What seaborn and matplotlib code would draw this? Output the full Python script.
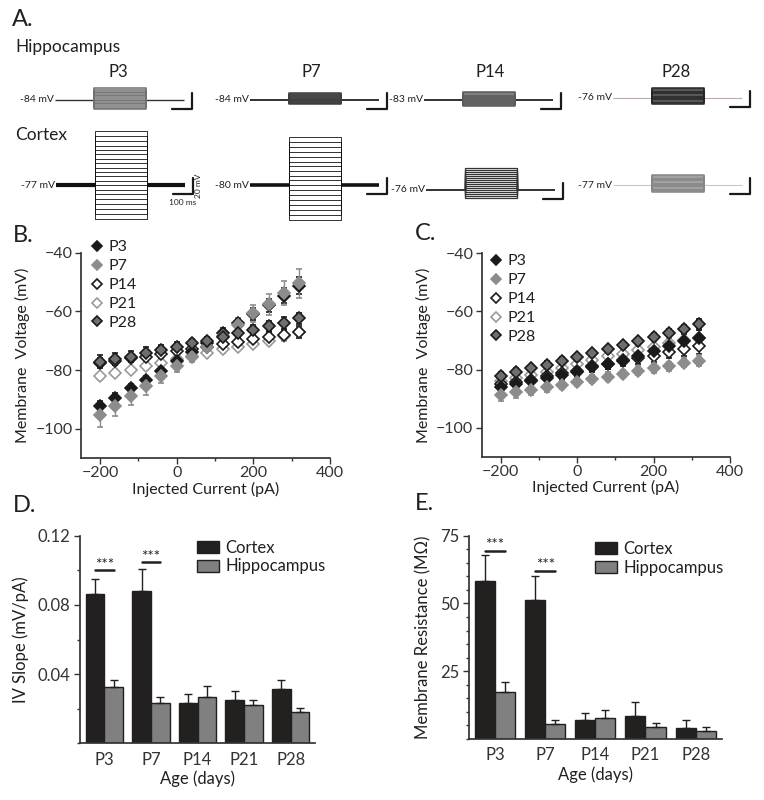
import numpy as np
import pandas as pd
import matplotlib
matplotlib.use('Agg')
import matplotlib.pyplot as plt
from matplotlib.lines import Line2D
from matplotlib.ticker import MultipleLocator
import seaborn as sns

sns.set_theme(style='ticks')
plt.rcParams['font.family'] = ['Lato', 'DejaVu Sans']
plt.rcParams['axes.edgecolor'] = '#333333'
plt.rcParams['xtick.color'] = '#333333'
plt.rcParams['ytick.color'] = '#333333'
plt.rcParams['text.color'] = '#231f20'
plt.rcParams['axes.labelcolor'] = '#231f20'

# ---------------- data ----------------
ages = ['P3', 'P7', 'P14', 'P21', 'P28']
trace_ages = ['P3', 'P7', 'P14', 'P28']

# A. step protocol (ms) and steady-state deflections (mV, relative to rest)
sweep_ms = [-195, 450]
step_ms = [0, 260]
hip_rest = [-84, -84, -83, -76]
ctx_rest = [-77, -80, -76, -77]
hip_levels = [
    [-11, -9.5, -7.5, -5.5, -3.5, -1.5, 0.5, 2.5, 4.5, 6.5, 8.5, 10.5, 13, 15],
    [-5, -4, -3.2, -2.3, -1.4, -0.5, 0.5, 1.5, 2.5, 3.6, 4.8, 6, 7.5, 9],
    [-7.5, -6.2, -5, -3.8, -2.6, -1.3, 0, 1.3, 2.6, 4, 5.3, 6.8, 8.4, 10],
    [-7.5, -6, -4.5, -3, -1.5, 0, 1.5, 3, 4.5, 6, 7.5, 9, 10.8, 12.5],
]
ctx_levels = [
    [-42.5, -36, -30, -24, -17.5, -11, -6, 0, 5, 11, 16, 21, 27.5, 32.5, 39, 44, 49, 55, 61, 67.5],
    [-44, -37.5, -31, -25, -19, -12.5, -6, 0, 6, 11, 17.5, 24, 29, 35, 41, 47.5, 54, 60],
    [-10, -7.6, -5.1, -2.5, 0, 2.4, 4.9, 7.5, 10, 12.6, 15, 17.4, 20, 22.6, 25, 27.5],
    [-9, -7.6, -6.1, -4.6, -3.1, -1.6, 0, 1.5, 3.1, 4.6, 6.2, 7.8, 9.3, 10.9, 12.5],
]

# B./C. IV curves
current_pA = [-200, -160, -120, -80, -40, 0, 40, 80, 120, 160, 200, 240, 280, 320]
iv_ctx = {
    'P3':  [-92.3, -89.4, -86.2, -83.4, -80.2, -76.8, -73.8, -70.8, -67.3, -64.0, -61.0, -58.0, -54.6, -51.2],
    'P7':  [-95.5, -92.3, -89.0, -85.6, -82.2, -78.8, -75.5, -72.2, -68.5, -64.5, -60.7, -57.6, -53.8, -50.4],
    'P14': [-77.5, -76.8, -76.0, -75.5, -74.5, -73.5, -72.8, -72.0, -71.0, -70.5, -69.5, -68.7, -68.0, -67.0],
    'P21': [-82.2, -81.0, -80.0, -78.8, -77.5, -76.3, -75.2, -74.3, -73.0, -72.0, -71.0, -70.0, -68.5, -67.0],
    'P28': [-77.2, -76.3, -75.4, -74.3, -73.2, -72.0, -70.9, -70.0, -68.8, -67.5, -66.3, -65.0, -63.9, -62.4],
}
iv_ctx_err = {
    'P3':  [1.8, 1.5, 1.3, 1.3, 1.3, 1.2, 1.2, 1.2, 1.5, 1.8, 2.0, 2.2, 2.5, 3.0],
    'P7':  [4.0, 3.5, 3.0, 2.8, 2.2, 2.0, 1.8, 1.5, 1.8, 2.2, 3.0, 3.5, 4.0, 5.0],
    'P14': [1.5, 1.4, 1.4, 1.3, 1.3, 1.2, 1.2, 1.2, 1.3, 1.4, 1.5, 1.6, 1.8, 2.0],
    'P21': [1.2, 1.2, 1.1, 1.1, 1.1, 1.0, 1.0, 1.0, 1.1, 1.2, 1.3, 1.4, 1.5, 1.6],
    'P28': [2.2, 2.0, 2.0, 2.0, 1.8, 1.5, 1.4, 1.4, 1.5, 1.6, 1.8, 1.8, 2.0, 2.0],
}
iv_hip = {
    'P3':  [-86.1, -85.0, -84.0, -83.0, -82.0, -80.8, -79.2, -78.1, -76.7, -75.2, -73.5, -72.0, -70.3, -69.1],
    'P7':  [-88.7, -87.9, -86.9, -86.1, -85.3, -84.4, -83.3, -82.4, -81.5, -80.4, -79.6, -78.9, -77.7, -76.9],
    'P14': [-85.0, -84.4, -83.5, -82.3, -81.2, -80.4, -78.9, -78.1, -77.1, -76.1, -75.2, -73.8, -72.9, -72.0],
    'P21': [-84.0, -83.0, -82.0, -80.8, -79.5, -78.0, -76.8, -75.5, -74.5, -73.3, -72.2, -71.0, -70.0, -69.0],
    'P28': [-82.1, -80.7, -79.6, -78.3, -76.9, -75.8, -74.3, -72.9, -71.5, -70.2, -68.8, -67.3, -66.0, -64.2],
}
iv_hip_err = {
    'P3':  [1.8, 1.6, 1.6, 1.5, 1.5, 1.5, 1.5, 1.6, 1.8, 2.0, 2.2, 2.4, 2.6, 2.8],
    'P7':  [2.0, 1.8, 1.8, 1.6, 1.5, 1.4, 1.4, 1.4, 1.4, 1.5, 1.5, 1.6, 1.6, 1.8],
    'P14': [1.6, 1.5, 1.5, 1.5, 1.5, 1.5, 1.6, 1.6, 1.8, 2.0, 2.2, 2.4, 2.6, 2.8],
    'P21': [1.4, 1.4, 1.4, 1.4, 1.4, 1.4, 1.5, 1.5, 1.6, 1.8, 2.0, 2.2, 2.4, 2.6],
    'P28': [1.2, 1.2, 1.2, 1.2, 1.1, 1.1, 1.1, 1.1, 1.1, 1.1, 1.2, 1.2, 1.3, 1.5],
}

# D./E. bar charts
slope_ctx = [0.0861, 0.0880, 0.0231, 0.0250, 0.0314]
slope_ctx_err = [0.0087, 0.0127, 0.0052, 0.0052, 0.0052]
slope_hip = [0.0327, 0.0235, 0.0266, 0.0220, 0.0179]
slope_hip_err = [0.0040, 0.0034, 0.0067, 0.0030, 0.0027]
res_ctx = [58.3, 51.3, 7.0, 8.5, 3.9]
res_ctx_err = [9.4, 9.0, 2.5, 5.3, 3.1]
res_hip = [17.2, 5.5, 7.9, 4.3, 3.1]
res_hip_err = [4.0, 1.5, 2.8, 1.7, 1.2]
sig_ages = ['P3', 'P7']
sig_slope = [0.100, 0.1046]
sig_res = [69.5, 62.1]

region_colors = {'Cortex': '#231f20', 'Hippocampus': '#808080'}

# ---------------- figure ----------------
W, H = 764, 800
fig = plt.figure(figsize=(W / 100, H / 100), dpi=100)


def px_axes(left, top, right, bottom):
    return fig.add_axes([left / W, 1 - bottom / H, (right - left) / W, (bottom - top) / H])


def ftext(x, y, s, **kw):
    fig.text(x / W, 1 - y / H, s, **kw)


# ---- A. example traces
MS_PX, MV_PX = 0.2, 0.8
T_VIEW = (-260, 560)
V_VIEW = (-50, 75)
SB_T = 490


def trace_panel(x0, base, rest, levels, tr_color, tr_lw, base_color, base_lw, scale_text=False):
    w = (T_VIEW[1] - T_VIEW[0]) * MS_PX
    h = (V_VIEW[1] - V_VIEW[0]) * MV_PX
    left = x0 - (sweep_ms[0] - T_VIEW[0]) * MS_PX
    top = base - V_VIEW[1] * MV_PX
    ax = px_axes(left, top, left + w, top + h)
    ax.set_xlim(T_VIEW)
    ax.set_ylim(rest + V_VIEW[0], rest + V_VIEW[1])
    ax.axis('off')
    ax.patch.set_alpha(0)
    ax.plot([sweep_ms[0], step_ms[0]], [rest, rest], color=base_color, lw=base_lw, solid_capstyle='butt')
    ax.plot([step_ms[1], sweep_ms[1]], [rest, rest], color=base_color, lw=base_lw, solid_capstyle='butt')
    for lv in levels:
        ax.plot([step_ms[0], step_ms[0], step_ms[1], step_ms[1]],
                [rest, rest + lv, rest + lv, rest], color=tr_color, lw=tr_lw)
    ax.plot([SB_T - 100, SB_T, SB_T], [rest - 11, rest - 11, rest + 9], color='#1a1a1a', lw=1.6)
    ax.text(sweep_ms[0] - 5, rest, f'{rest} mV', ha='right', va='center', fontsize=7.5,
            family=['Liberation Sans Narrow', 'Lato'])
    if scale_text:
        ax.text(SB_T + 12, rest - 1, '20 mV', rotation=90, ha='left', va='center', fontsize=6)
        ax.text(SB_T - 50, rest - 17, '100 ms', ha='center', va='top', fontsize=6)
    return ax


hip_x0 = [55, 250, 424, 613]
hip_base = [100, 100, 100, 98]
ctx_x0 = [56, 250, 426, 613]
ctx_base = [185, 185, 190, 185]
hip_style = [('#707070', 1.1, '#333333', 1.0), ('#3d3d3d', 1.1, '#222222', 1.3),
             ('#5a5a5a', 1.1, '#222222', 1.3), ('#262626', 1.1, '#c4aaa5', 0.8)]
ctx_style = [('#111111', 0.6, '#111111', 3.0), ('#111111', 0.6, '#111111', 2.6),
             ('#333333', 0.9, '#222222', 1.3), ('#858585', 1.1, '#c8c8c8', 0.8)]

for i in range(4):
    trace_panel(hip_x0[i], hip_base[i], hip_rest[i], hip_levels[i], *hip_style[i])
    trace_panel(ctx_x0[i], ctx_base[i], ctx_rest[i], ctx_levels[i], *ctx_style[i],
                scale_text=(i == 0))

for x, lab in zip([118, 311, 490, 676], trace_ages):
    ftext(x, 72, lab, ha='center', va='center', fontsize=12)
ftext(15, 47, 'Hippocampus', ha='left', va='center', fontsize=12.5)
ftext(15, 135, 'Cortex', ha='left', va='center', fontsize=12.5)

# ---- B./C. IV curves
iv_style = {
    'P3':  dict(mfc='#1a1a1a', mec='#1a1a1a', ecolor='#1a1a1a'),
    'P7':  dict(mfc='#8c8c8c', mec='#8c8c8c', ecolor='#8c8c8c'),
    'P14': dict(mfc='white', mec='#1a1a1a', ecolor='#1a1a1a'),
    'P21': dict(mfc='white', mec='#9a9a9a', ecolor='#9a9a9a'),
    'P28': dict(mfc='#6e6e6e', mec='#1a1a1a', ecolor='#1a1a1a'),
}
draw_order = ['P21', 'P14', 'P3', 'P7', 'P28']


def iv_panel(ax, vals, errs, leg_xy):
    for age in draw_order:
        st = iv_style[age]
        ax.errorbar(current_pA, vals[age], yerr=errs[age], fmt='D', ms=6, mew=1.2,
                    mfc=st['mfc'], mec=st['mec'], ecolor=st['ecolor'], elinewidth=1,
                    capsize=2.5, capthick=1)
    ax.set_xlim(-250, 400)
    ax.set_ylim(-110, -40)
    ax.set_xticks([-200, 0, 200, 400])
    ax.xaxis.set_minor_locator(MultipleLocator(100))
    ax.set_yticks([-100, -80, -60, -40])
    ax.tick_params(labelsize=11.5, length=4, width=1, pad=2)
    ax.tick_params(which='minor', length=2.5, width=1)
    ax.set_xlabel('Injected Current (pA)', fontsize=11.5, labelpad=1)
    ax.set_ylabel('Membrane  Voltage (mV)', fontsize=11.5, labelpad=4)
    sns.despine(ax=ax)
    handles = [Line2D([], [], ls='none', marker='D', ms=5, mew=1.2,
                      mfc=iv_style[a]['mfc'], mec=iv_style[a]['mec']) for a in ages]
    ax.legend(handles, ages, loc='upper left', bbox_to_anchor=(leg_xy[0] / W, 1 - leg_xy[1] / H),
              bbox_transform=fig.transFigure, frameon=False, fontsize=11.5, handlelength=0.8,
              handletextpad=0.3, borderpad=0, borderaxespad=0, labelspacing=0.3)


axB = px_axes(81, 252.7, 330, 458)
iv_panel(axB, iv_ctx, iv_ctx_err, (91, 240))
axC = px_axes(481.7, 253.3, 730, 456.7)
iv_panel(axC, iv_hip, iv_hip_err, (490, 254))

# ---- D./E. bar charts


def bar_panel(ax, ctx, ctx_err, hip, hip_err, sig, ylim, yticks, minor, ylabel, leg_xy):
    df = pd.DataFrame({'Age': ages * 2,
                       'Region': ['Cortex'] * len(ages) + ['Hippocampus'] * len(ages),
                       'value': ctx + hip})
    sns.barplot(data=df, x='Age', y='value', hue='Region', palette=region_colors,
                edgecolor='#231f20', linewidth=1, errorbar=None, width=0.8, ax=ax)
    for cont, errs in zip(ax.containers, [ctx_err, hip_err]):
        xs = [b.get_x() + b.get_width() / 2 for b in cont]
        hs = [b.get_height() for b in cont]
        ax.errorbar(xs, hs, yerr=[np.zeros(len(errs)), errs], fmt='none', ecolor='#231f20',
                    elinewidth=1, capsize=3, capthick=1, zorder=1)
    for age, h in zip(sig_ages, sig):
        i = ages.index(age)
        b0, b1 = ax.containers[0][i], ax.containers[1][i]
        x0 = b0.get_x() + b0.get_width() / 2
        x1 = b1.get_x() + b1.get_width() / 2
        ax.plot([x0, x1], [h, h], color='#231f20', lw=1.8)
        ax.annotate('***', ((x0 + x1) / 2, h), xytext=(0, -1), textcoords='offset points',
                    ha='center', va='bottom', fontsize=11)
    ax.set_xlim(-0.52, 4.52)
    ax.set_ylim(*ylim)
    ax.set_yticks(yticks)
    ax.yaxis.set_minor_locator(MultipleLocator(minor))
    ax.tick_params(axis='y', labelsize=12, length=4, width=1, pad=3)
    ax.tick_params(axis='y', which='minor', length=2.5, width=1)
    ax.tick_params(axis='x', labelsize=12, length=0, pad=6)
    ax.set_xlabel('Age (days)', fontsize=12, labelpad=2)
    ax.set_ylabel(ylabel, fontsize=12, labelpad=6)
    sns.despine(ax=ax)
    h_, l_ = ax.get_legend_handles_labels()
    ax.legend(h_, l_, loc='upper left', bbox_to_anchor=(leg_xy[0] / W, 1 - leg_xy[1] / H),
              bbox_transform=fig.transFigure, frameon=False, fontsize=12, handlelength=1.3,
              handleheight=0.75, handletextpad=0.4, borderpad=0, borderaxespad=0,
              labelspacing=0.15)


axD = px_axes(80, 535.7, 315, 743.3)
bar_panel(axD, slope_ctx, slope_ctx_err, slope_hip, slope_hip_err, sig_slope, (0, 0.12),
          [0.04, 0.08, 0.12], 0.02, 'IV Slope (mV/pA)', (197, 540))
axE = px_axes(469, 535.7, 721.7, 739)
bar_panel(axE, res_ctx, res_ctx_err, res_hip, res_hip_err, sig_res, (0, 75),
          [25, 50, 75], 5, 'Membrane Resistance (M\u03a9)', (595, 541))

# ---- panel letters
for x, y, s in [(12, 20, 'A.'), (13, 235, 'B.'), (415, 233, 'C.'), (13, 506, 'D.'), (415, 503, 'E.')]:
    ftext(x, y, s, ha='left', va='center', fontsize=17)

fig.savefig('out.png', dpi=100)
